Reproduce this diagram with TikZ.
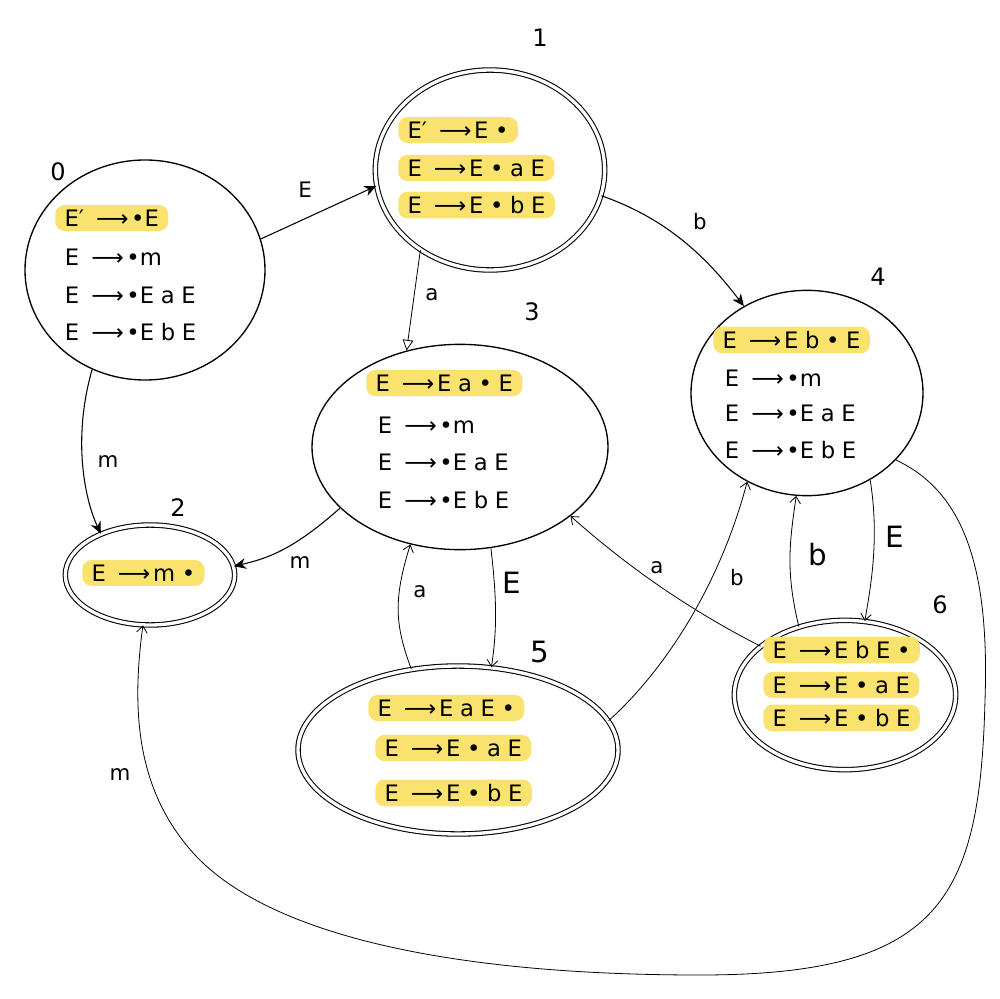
\documentclass[tikz,border=0pt]{standalone}
\usepackage{fontspec}
\setmainfont{DejaVu Sans}
\usetikzlibrary{shapes.geometric,arrows.meta}
\definecolor{hl}{RGB}{250,226,110}
\newcommand{\myar}{\hspace{9pt}⟶\hspace{2pt}}
\newcommand{\gp}{\hspace{5pt}}
\tikzset{
 state/.style={draw, ellipse, line width=1pt, inner sep=0pt},
 accept/.style={state, double, double distance=2.5pt, line width=0.8pt},
 item/.style={anchor=west, inner sep=2pt, font=\fontsize{17}{19}\selectfont},
 hitem/.style={item, fill=hl, rounded corners=7pt, inner xsep=7pt, inner ysep=3.5pt},
 slabel/.style={font=\fontsize{18}{20}\selectfont},
 elabel/.style={font=\fontsize{16}{18}\selectfont},
 biglabel/.style={font=\fontsize{22}{24}\selectfont},
 edge/.style={line width=0.8pt, -{Stealth[length=9pt,width=8pt]}},
 oedge/.style={line width=0.6pt, -{Straight Barb[length=5pt,width=8pt]}},
 tedge/.style={line width=0.6pt, -{Triangle[open,length=8pt,width=8pt]}},
}
\begin{document}
\begin{tikzpicture}[x=0.75pt,y=-0.75pt]
\useasboundingbox (0,0) rectangle (1000,999);

% states
\node[state, minimum width=180pt, minimum height=165pt] (s0) at (145,270) {};
\node[accept, minimum width=172pt, minimum height=150pt] (s1) at (490,170) {};
\node[accept, minimum width=127pt, minimum height=75pt] (s2) at (150,575) {};
\node[state, minimum width=222pt, minimum height=154pt] (s3) at (460,447) {};
\node[state, minimum width=174pt, minimum height=154pt] (s4) at (807,393) {};
\node[accept, minimum width=240pt, minimum height=126pt] (s5) at (458,750) {};
\node[accept, minimum width=166pt, minimum height=112pt] (s6) at (845,695) {};

% state numbers
\node[slabel] (n0) at (58,172) {0};
\node[slabel] (n1) at (540,38) {1};
\node[slabel] (n2) at (178,508) {2};
\node[slabel] (n3) at (532,312) {3};
\node[slabel] (n4) at (878,277) {4};
\node[biglabel] (n5) at (540,652) {5};
\node[slabel] (n6) at (940,605) {6};

% items state 0
\node[hitem] (i00) at (55,218) {E′\myar•E};
\node[item] (i01) at (62,257) {E\myar•m};
\node[item] (i02) at (62,295) {E\myar•E\gp a\gp E};
\node[item] (i03) at (62,332) {E\myar•E\gp b\gp E};
% state 1
\node[hitem] (i10) at (398,130) {E′\myar E\gp•};
\node[hitem] (i11) at (398,168) {E\myar E\gp•\gp a\gp E};
\node[hitem] (i12) at (398,205) {E\myar E\gp•\gp b\gp E};
% state 2
\node[hitem] (i20) at (82,573) {E\myar m\gp•};
% state 3
\node[hitem] (i30) at (366,383) {E\myar E\gp a\gp•\gp E};
\node[item] (i31) at (375,425) {E\myar•m};
\node[item] (i32) at (375,462) {E\myar•E\gp a\gp E};
\node[item] (i33) at (375,500) {E\myar•E\gp b\gp E};
% state 4
\node[hitem] (i40) at (713,340) {E\myar E\gp b\gp•\gp E};
\node[item] (i41) at (722,378) {E\myar•m};
\node[item] (i42) at (722,413) {E\myar•E\gp a\gp E};
\node[item] (i43) at (722,450) {E\myar•E\gp b\gp E};
% state 5
\node[hitem] (i50) at (368,708) {E\myar E\gp a\gp E\gp•};
\node[hitem] (i51) at (375,748) {E\myar E\gp•\gp a\gp E};
\node[hitem] (i52) at (375,793) {E\myar E\gp•\gp b\gp E};
% state 6
\node[hitem] (i60) at (763,650) {E\myar E\gp b\gp E\gp•};
\node[hitem] (i61) at (763,685) {E\myar E\gp•\gp a\gp E};
\node[hitem] (i62) at (763,718) {E\myar E\gp•\gp b\gp E};

% edges
\draw[edge] (s0.15) -- (s1.188);
\node[elabel] (l01) at (305,190) {E};
\draw[edge] (s1.347) .. controls (665,218) and (705,255) .. (s4.126);
\node[elabel] (l14) at (700,222) {b};
\draw[tedge] (s1.229) -- (s3.119);
\node[elabel] (l13) at (432,295) {a};
\draw[edge] (s0.242) .. controls (72,440) and (85,500) .. (s2.140);
\node[elabel] (l02) at (108,462) {m};
\draw[edge] (s3.207) .. controls (295,548) and (270,558) .. (s2.6);
\node[elabel] (l32) at (300,563) {m};
\draw[oedge] (s3.287) .. controls (497,600) and (497,630) .. (s5.68);
\node[biglabel] (l35) at (512,583) {E};
\draw[oedge] (s5.120) .. controls (395,625) and (393,600) .. (s3.243);
\node[elabel] (l53) at (420,592) {a};
\draw[oedge] (s5.11) .. controls (665,670) and (720,585) .. (s4.236);
\node[elabel] (l54) at (737,578) {b};
\draw[oedge] (s6.150) .. controls (680,605) and (620,560) .. (s3.328);
\node[elabel] (l63) at (657,568) {a};
\draw[oedge] (s6.124) .. controls (785,570) and (790,540) .. (s4.264);
\node[biglabel] (l64) at (818,555) {b};
\draw[oedge] (s4.306) .. controls (880,540) and (870,590) .. (s6.75);
\node[biglabel] (l46) at (895,537) {E};
\draw[oedge] (s4.323) .. controls (960,490) and (990,560) .. (985,700)
  .. controls (980,900) and (940,975) .. (700,975)
  .. controls (450,975) and (270,935) .. (195,855)
  .. controls (140,795) and (130,720) .. (s2.262);
\node[elabel] (l42) at (120,775) {m};
\end{tikzpicture}
\end{document}
